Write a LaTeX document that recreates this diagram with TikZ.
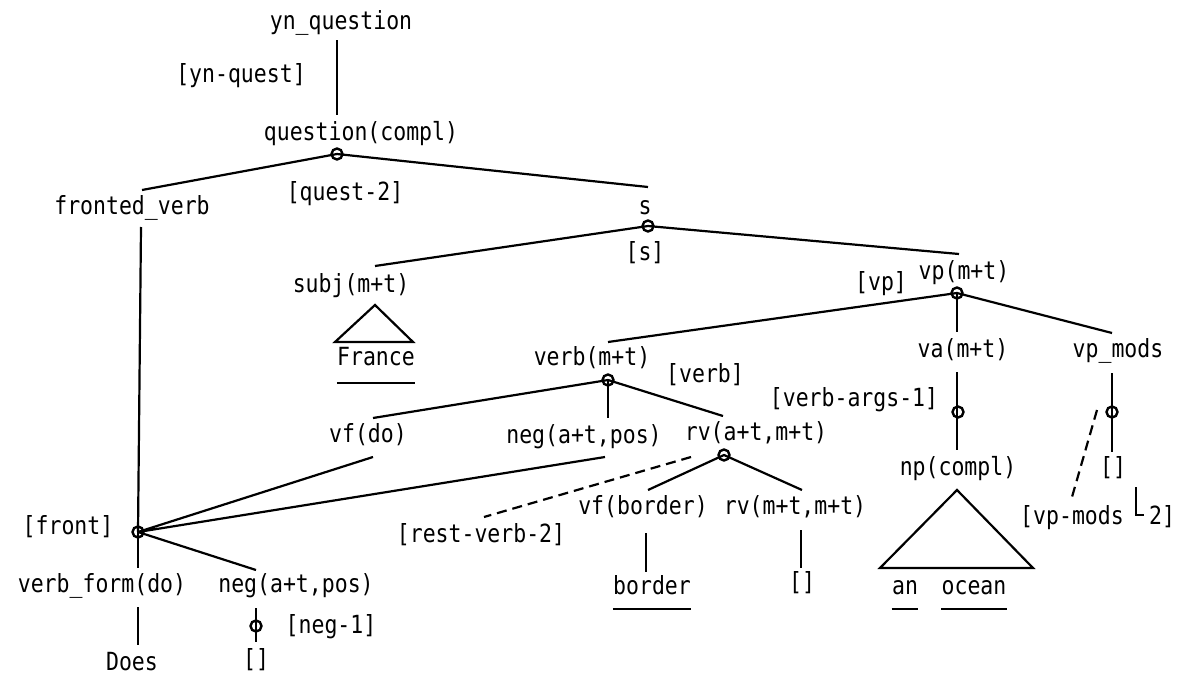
\documentclass[tikz,border=0pt]{standalone}
\usepackage{fontspec}
\newfontfamily\plotfont[FakeStretch=0.86]{DejaVu Sans Mono}
\begin{document}
\begin{tikzpicture}[x=0.5pt,y=-0.5pt,
  lab/.style={anchor=base,inner sep=0pt,yshift=-0.5pt,font=\plotfont\fontsize{12.5}{15}\selectfont},
  edge/.style={line width=1.1pt},
  trace/.style={edge,dash pattern=on 5pt off 3pt},
  junc/.style={circle,draw,line width=1.2pt,minimum size=5.5pt,inner sep=0pt}]
\useasboundingbox (0,0) rectangle (1179,680);

% category and rule labels (placed by baseline)
\node[lab] (ynq)    at (341,28)  {yn\_question};
\node[lab] (rynq)   at (241,81)  {[yn-quest]};
\node[lab] (qc)     at (361,139) {question(compl)};
\node[lab] (rq2)    at (345,199) {[quest-2]};
\node[lab] (fv)     at (132,213) {fronted\_verb};
\node[lab] (s)      at (645,213) {s};
\node[lab] (rs)     at (645,259) {[s]};
\node[lab] (subj)   at (351,291) {subj(m+t)};
\node[lab] (france) at (376,364) {France};
\node[lab] (rvp)    at (881,289) {[vp]};
\node[lab] (vp)     at (964,278) {vp(m+t)};
\node[lab] (verb)   at (592,364) {verb(m+t)};
\node[lab] (rverb)  at (705,381) {[verb]};
\node[lab] (va)     at (963,356) {va(m+t)};
\node[lab] (vpm)    at (1118,356) {vp\_mods};
\node[lab] (rva)    at (854,405) {[verb-args-1]};
\node[lab] (vfdo)   at (368,441) {vf(do)};
\node[lab] (neg)    at (584,442) {neg(a+t,pos)};
\node[lab] (rv)     at (756,439) {rv(a+t,m+t)};
\node[lab] (np)     at (958,474) {np(compl)};
\node[lab] (nil3)   at (1113,474) {[]};
\node[lab] (rfront) at (68,533)  {[front]};
\node[lab] (rrest)  at (481,541) {[rest-verb-2]};
\node[lab] (vfb)    at (643,513) {vf(border)};
\node[lab] (rvmt)   at (795,513) {rv(m+t,m+t)};
\node[lab] (rvpm)   at (1072,523) {[vp-mods};
\node[lab] (rvpm2)  at (1162,523) {2]};
\node[lab] (vform)  at (102,591) {verb\_form(do)};
\node[lab] (neg2)   at (296,591) {neg(a+t,pos)};
\node[lab] (border) at (652,593) {border};
\node[lab] (nil2)   at (802,589) {[]};
\node[lab] (an)     at (905,593) {an};
\node[lab] (ocean)  at (974,593) {ocean};
\node[lab] (rneg)   at (331,632) {[neg-1]};
\node[lab] (does)   at (132,669) {Does};
\node[lab] (nil1)   at (256,666) {[]};

% rule application points
\node[junc] (jq)     at (337,154) {};
\node[junc] (js)     at (648,226) {};
\node[junc] (jvp)    at (957,293) {};
\node[junc] (jverb)  at (608,380) {};
\node[junc] (jrv)    at (724,455) {};
\node[junc] (jva)    at (958,412) {};
\node[junc] (jvpm)   at (1112,412) {};
\node[junc] (jfront) at (138,532) {};
\node[junc] (jneg)   at (256,626) {};

% free ends of the branches
\coordinate (ynq-b)   at (337,40);
\coordinate (qc-t)    at (337,115);
\coordinate (fv-t)    at (142,190);
\coordinate (s-t)     at (648,187);
\coordinate (fv-b)    at (141,227);
\coordinate (subj-t)  at (375,266);
\coordinate (vp-t)    at (959,254);
\coordinate (verb-t)  at (608,342);
\coordinate (va-t)    at (957,332);
\coordinate (vpm-t)   at (1112,333);
\coordinate (vfdo-t)  at (373,418);
\coordinate (neg-t)   at (608,418);
\coordinate (rv-t)    at (723,416);
\coordinate (vfdo-b)  at (373,457);
\coordinate (neg-b)   at (605,457);
\coordinate (neg2-t)  at (256,570);
\coordinate (vform-t) at (138,568);
\coordinate (vform-b) at (138,607);
\coordinate (does-t)  at (138,645);
\coordinate (neg2-b)  at (256,608);
\coordinate (nil1-t)  at (256,642);
\coordinate (vfb-t)   at (648,490);
\coordinate (rvmt-t)  at (802,490);
\coordinate (rv-d)    at (691,457);
\coordinate (rest-t)  at (484,517);
\coordinate (vfb-b)   at (646,533);
\coordinate (border-t) at (646,572);
\coordinate (rvmt-b)  at (801,530);
\coordinate (nil2-t)  at (801,568);
\coordinate (va-b)    at (957,372);
\coordinate (np-t)    at (957,450);
\coordinate (vpm-b)   at (1112,373);
\coordinate (nil3-t)  at (1112,452);
\coordinate (vpmd-a)  at (1097,410);
\coordinate (vpmd-b)  at (1072,497);
\coordinate (tick-a)  at (1136,487);
\coordinate (tick-b)  at (1136,515);
\coordinate (tick-c)  at (1144,515);

% branches
\draw[edge] (ynq-b) -- (qc-t);
\draw[edge] (fv-t) -- (jq.center) -- (s-t);
\draw[edge] (fv-b) -- (jfront.center);
\draw[edge] (subj-t) -- (js.center) -- (vp-t);
\draw[edge] (verb-t) -- (jvp.center) -- (vpm-t);
\draw[edge] (jvp.center) -- (va-t);
\draw[edge] (vfdo-t) -- (jverb.center) -- (rv-t);
\draw[edge] (jverb.center) -- (neg-t);
\draw[edge] (vfdo-b) -- (jfront.center) -- (neg-b);
\draw[edge] (jfront.center) -- (neg2-t);
\draw[edge] (jfront.center) -- (vform-t);
\draw[edge] (vform-b) -- (does-t);
\draw[edge] (neg2-b) -- (nil1-t);
\draw[edge] (vfb-t) -- (jrv.center) -- (rvmt-t);
\draw[trace] (rv-d) -- (rest-t);
\draw[edge] (vfb-b) -- (border-t);
\draw[edge] (rvmt-b) -- (nil2-t);
\draw[edge] (va-b) -- (np-t);
\draw[edge] (vpm-b) -- (nil3-t);
\draw[trace] (vpmd-a) -- (vpmd-b);
\draw[edge] (tick-a) -- (tick-b) -- (tick-c);

% collapsed subtrees
\coordinate (subj-apex) at (375,305);
\coordinate (np-apex)   at (957,490);
\draw[edge] (subj-apex) -- (335,342) -- (413,342) -- cycle;
\draw[edge] (np-apex) -- (880,568) -- (1033,568) -- cycle;

% underlined words of the sentence
\draw[edge] ([yshift=-9pt]france.base west) -- ([yshift=-9pt]france.base east);
\draw[edge] ([yshift=-7.5pt]border.base west) -- ([yshift=-7.5pt]border.base east);
\draw[edge] ([yshift=-7.5pt]an.base west) -- ([yshift=-7.5pt]an.base east);
\draw[edge] ([yshift=-7.5pt]ocean.base west) -- ([yshift=-7.5pt]ocean.base east);
\end{tikzpicture}
\end{document}
